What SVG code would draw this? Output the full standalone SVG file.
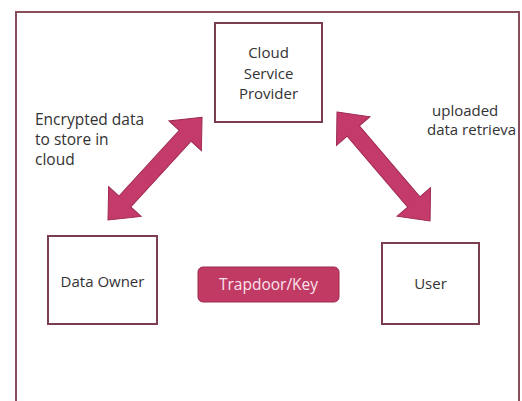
<svg xmlns="http://www.w3.org/2000/svg" width="522" height="401" viewBox="0 0 522 401">
  <style>
    .frame { fill: none; stroke: #8a4d5c; stroke-width: 2; }
    .box { fill: #ffffff; stroke: #7a3e4e; stroke-width: 2; }
    .lbl { font-family: "Open Sans", "DejaVu Sans", sans-serif; font-size: 15px; fill: #333333; }
    .mid { text-anchor: middle; }
    .arrow { fill: #c43a6b; stroke: #9e2a52; stroke-width: 1; stroke-linejoin: miter; }
    .key { fill: #c03a63; stroke: #9e2a4f; stroke-width: 1; }
    .keytxt { font-family: "Open Sans", "DejaVu Sans", sans-serif; font-size: 15.5px; fill: #fbe3ec; text-anchor: middle; }
  </style>

  <rect width="522" height="401" fill="#ffffff"/>
  <!-- outer frame -->
  <rect class="frame" x="16" y="12" width="503" height="400"/>

  <!-- double-headed connectors -->
  <g id="connectors">
    <!-- Data Owner <-> Cloud Service Provider -->
    <path class="arrow" transform="translate(108 220) rotate(-47.5)"
          d="M0 0 L25 -22 L25 -8 L114.2 -8 L114.2 -22 L139.2 0 L114.2 22 L114.2 8 L25 8 L25 22 Z"/>
    <!-- Cloud Service Provider <-> User -->
    <path class="arrow" transform="translate(337 112) rotate(49.5)"
          d="M0 0 L25 -22 L25 -8 L118.3 -8 L118.3 -22 L143.3 0 L118.3 22 L118.3 8 L25 8 L25 22 Z"/>
  </g>

  <g id="csp">
    <rect class="box" x="215" y="23" width="107" height="99"/>
    <text class="lbl mid" x="268.5" y="58">Cloud</text>
    <text class="lbl mid" x="268.5" y="79">Service</text>
    <text class="lbl mid" x="268.5" y="99">Provider</text>
  </g>

  <g id="owner">
    <rect class="box" x="48" y="236" width="109" height="88"/>
    <text class="lbl mid" x="102.5" y="287">Data Owner</text>
  </g>

  <g id="user">
    <rect class="box" x="382" y="243" width="97" height="81"/>
    <text class="lbl mid" x="430.5" y="289">User</text>
  </g>

  <g id="trapdoor">
    <rect class="key" x="198" y="267" width="141" height="35" rx="5"/>
    <text class="keytxt" x="268.5" y="290">Trapdoor/Key</text>
  </g>

  <g id="note-left">
    <text class="lbl" x="35" y="125" style="font-size:15.5px">Encrypted data</text>
    <text class="lbl" x="35" y="145" style="font-size:15.5px">to store in</text>
    <text class="lbl" x="35" y="165" style="font-size:15.5px">cloud</text>
  </g>

  <g id="note-right">
    <text class="lbl" x="432" y="116">uploaded</text>
    <text class="lbl" x="427" y="135">data retrieva</text>
  </g>
</svg>
